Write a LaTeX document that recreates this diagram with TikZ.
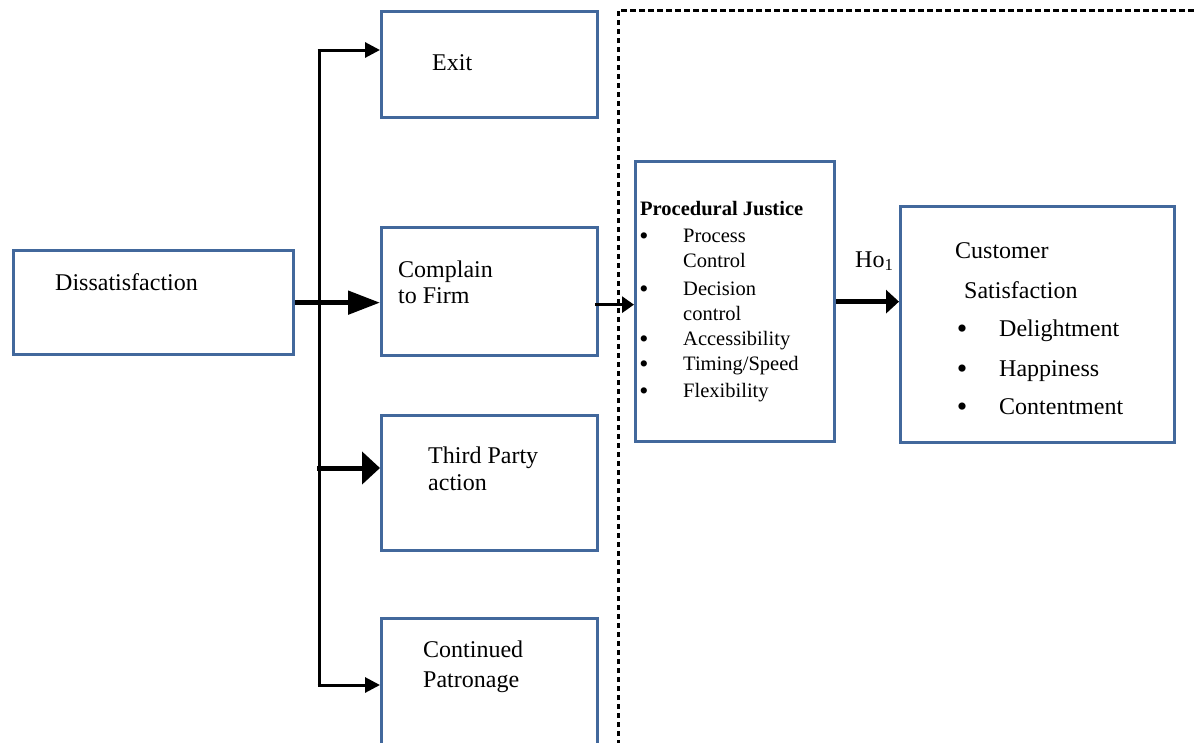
\documentclass[tikz,border=0pt]{standalone}
\usepackage{fontspec}
\setmainfont{Liberation Serif}
\usetikzlibrary{arrows.meta}
\definecolor{boxblue}{RGB}{66,104,156}
\begin{document}
\begin{tikzpicture}[x=1pt,y=-1pt,
  box/.style={draw=boxblue,line width=3.3pt,anchor=north west,inner sep=0pt,fill=white},
  txt/.style={anchor=base west,inner sep=0pt,font=\fontsize{24}{28}\selectfont},
  ptxt/.style={anchor=base west,inner sep=0pt,font=\fontsize{20.5}{24}\selectfont},
  pbul/.style={anchor=center,inner sep=0pt,font=\fontsize{26}{24}\selectfont},
  cbul/.style={anchor=center,inner sep=0pt,font=\fontsize{30}{28}\selectfont},
  thinarrow/.style={line width=3pt,-{Triangle[length=15pt,width=15pt]}},
  thickarrow/.style={line width=5pt,-{Triangle[length=32pt,width=23pt]}},
  stubarrow/.style={line width=5pt,-{Triangle[length=18pt,width=32pt]}},
  smallarrow/.style={line width=3pt,-{Triangle[length=12pt,width=16pt]}},
  midarrow/.style={line width=4.5pt,-{Triangle[length=13pt,width=23pt]}},
  frame/.style={line width=3pt,dash pattern=on 5.5pt off 3.5pt}
]
\clip (0,0) rectangle (1197,742);
\fill[white] (0,0) rectangle (1197,742);

% boxes
\node[box,minimum width=280pt,minimum height=104pt] (dis) at (12,249) {};
\node[box,minimum width=216pt,minimum height=106pt] (exit) at (380,10) {};
\node[box,minimum width=216pt,minimum height=128pt] (comp) at (380,226) {};
\node[box,minimum width=216pt,minimum height=135pt] (third) at (380,414) {};
\node[box,minimum width=216pt,minimum height=126pt] (cont) at (380,617) {};
\node[box,minimum width=199pt,minimum height=280pt] (proc) at (634,160) {};
\node[box,minimum width=274pt,minimum height=236pt] (cust) at (899,205) {};

% dashed frame
\coordinate (fbot) at (618,745);
\coordinate (fcorner) at (618,10);
\coordinate (fright) at (1200,10);
\draw[frame] (fbot) -- (fcorner) -- (fright);

% texts
\node[txt] (tdis) at (55,290) {Dissatisfaction};
\node[txt] (texit) at (432,70) {Exit};
\node[txt] (tcomp1) at (398,277) {Complain};
\node[txt] (tcomp2) at (398,303) {to Firm};
\node[txt] (tthird1) at (428,463) {Third Party};
\node[txt] (tthird2) at (428,490) {action};
\node[txt] (tcont1) at (423,657) {Continued};
\node[txt] (tcont2) at (423,687) {Patronage};

\node[ptxt,font=\fontsize{20.5}{24}\selectfont\bfseries] (pj) at (640,215) {Procedural Justice};
\node[pbul] (pb1) at (644,239) {•};
\node[ptxt] (p1) at (683,242) {Process};
\node[ptxt] (p1b) at (683,267) {Control};
\node[pbul] (pb2) at (644,292) {•};
\node[ptxt] (p2) at (683,295) {Decision};
\node[ptxt] (p2b) at (683,320) {control};
\node[pbul] (pb3) at (644,342) {•};
\node[ptxt] (p3) at (683,345) {Accessibility};
\node[pbul] (pb4) at (644,367) {•};
\node[ptxt] (p4) at (683,370) {Timing/Speed};
\node[pbul] (pb5) at (644,394) {•};
\node[ptxt] (p5) at (683,397) {Flexibility};

\node[txt] (ho) at (855,267) {Ho\textsubscript{1}};

\node[txt] (cs1) at (955,258) {Customer};
\node[txt] (cs2) at (964,298) {Satisfaction};
\node[cbul] (cb1) at (962,332) {•};
\node[txt] (c1) at (999,336) {Delightment};
\node[cbul] (cb2) at (962,372) {•};
\node[txt] (c2) at (999,376) {Happiness};
\node[cbul] (cb3) at (962,410) {•};
\node[txt] (c3) at (999,414) {Contentment};

% connectors
\coordinate (ttop) at (319,50);
\coordinate (tmid) at (317,468);
\coordinate (tbot) at (319,685);
\draw[line width=3pt] (ttop) -- (tbot);
\draw[thinarrow] ([xshift=-1.5pt]ttop) -- (ttop -| exit.west);
\draw[thickarrow] (dis.east) -- (dis.east -| comp.west);
\draw[stubarrow] (tmid) -- (tmid -| third.west);
\draw[thinarrow] ([xshift=-1.5pt]tbot) -- (tbot -| cont.west);
\coordinate (cout) at ([shift={(-4,13)}]comp.east);
\draw[smallarrow] (cout) -- (cout -| proc.west);
\draw[midarrow] (proc.east) -- (proc.east -| cust.west);
\end{tikzpicture}
\end{document}
